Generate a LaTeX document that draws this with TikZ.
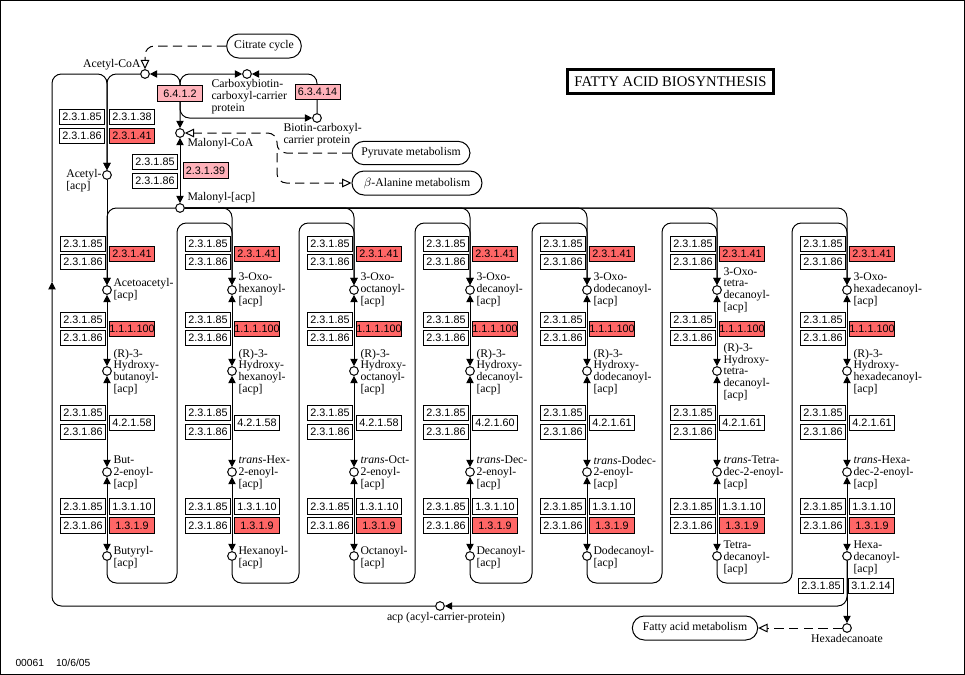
\documentclass[tikz,border=0pt]{standalone}
\usepackage{fontspec}
\setmainfont{Liberation Serif}
\setsansfont{Liberation Sans}
\usetikzlibrary{arrows.meta}
\definecolor{hitred}{RGB}{255,102,102}
\definecolor{hitpink}{RGB}{255,178,186}
\newcommand\acptag{[acp]}

\begin{document}
\begin{tikzpicture}[x=0.75pt, y=-0.75pt, line width=0.75pt,
    >={Triangle[length=5.5pt,width=5.5pt]},
    enz/.style={draw, fill=white, font=\sffamily\fontsize{8.1}{8}\selectfont,
      minimum width=33.75pt, minimum height=11.75pt, inner sep=0pt},
    hit/.style={enz, fill=hitred},
    part/.style={enz, fill=hitpink},
    cpd/.style={circle, draw, fill=white, minimum size=6.5pt, inner sep=0pt},
    lbl/.style={font=\fontsize{8.8}{8.8}\selectfont, align=left, inner sep=0pt},
    map/.style={draw, rounded corners=9pt, font=\fontsize{8.8}{9}\selectfont,
      inner sep=0pt, minimum height=18pt},
    link/.style={dash pattern=on 7pt off 4pt, -{Triangle[open,length=7pt,width=6.5pt]}},
    rc/.style={rounded corners=7pt}]

  \useasboundingbox (0,0) rectangle (965,675);
  \draw (0.5,0.5) rectangle (964.5,674.5);

  % Title
  \node[draw, line width=2.25pt, minimum width=154.5pt, minimum height=18pt,
    font=\fontsize{11}{11}\selectfont] (title) at (670.5,81.5) {FATTY ACID BIOSYNTHESIS};
  \node[anchor=west, inner sep=0pt, font=\sffamily\fontsize{7.7}{8}\selectfont]
    (mapid) at (15,663) {00061\hspace{9pt}10/6/05};

  % Compounds at the top
  \node[cpd] (acoa) at (145,74) {};
  \node[lbl, anchor=east] (acoal) at (141,65) {Acetyl-CoA};
  \node[cpd] (cbc) at (247,74) {};
  \node[lbl, anchor=north west] (cbcl) at (211,79) {Carboxybiotin-\\carboxyl-carrier\\protein};
  \node[cpd] (bcc) at (317,118) {};
  \node[lbl, anchor=north west] (bccl) at (283,123) {Biotin-carboxyl-\\carrier protein};
  \node[cpd] (mcoa) at (180,133) {};
  \node[lbl, anchor=west] (mcoal) at (187,144) {Malonyl-CoA};
  \node[cpd] (macp) at (180,208) {};
  \node[lbl, anchor=west] (macpl) at (187,198) {Malonyl-\acptag};
  \node[cpd] (aacp) at (107,175) {};
  \node[lbl, anchor=east] (aacpl) at (102,181) {Acetyl-\\\acptag};
  \node[cpd] (acp) at (440,606) {};
  \node[lbl] (acpl) at (446,618) {acp (acyl-carrier-protein)};
  \node[cpd] (hexa) at (847,628) {};
  \node[lbl] (hexal) at (847,638) {Hexadecanoate};

  % Pathway maps
  \node[map, minimum width=56pt] (cit) at (264,46) {Citrate cycle};
  \node[map, minimum width=88.5pt, minimum height=17.5pt] (pyr) at (411,153) {Pyruvate metabolism};
  \node[map, minimum width=97.5pt] (ala) at (417,183) {$\beta$-Alanine metabolism};
  \node[map, minimum width=94pt] (fam) at (695,628) {Fatty acid metabolism};

  % Top enzymes
  \node[enz] (t85) at (82,117) {2.3.1.85};
  \node[enz] (t38) at (132,117) {2.3.1.38};
  \node[enz] (t86) at (82,136) {2.3.1.86};
  \node[hit] (t41) at (132,136) {2.3.1.41};
  \node[enz] (m85) at (155,162) {2.3.1.85};
  \node[enz] (m86) at (155,181) {2.3.1.86};
  \node[part] (m39) at (205.5,170.5) {2.3.1.39};

  % Carboxylation
  \coordinate (j1) at (180,95);
  \coordinate (d1) at (277,133);
  \coordinate (d2) at (277,153);
  \draw[<->, rc] (acoa) -- (180,74) -- (mcoa);
  \draw[->, rc] (j1) -- (180,74) -- (cbc);
  \draw[->, rc] (j1) -- (180,118) -- (bcc);
  \draw[->, rc] (bcc) -- (317,74) -- (cbc);
  \draw[<->] (mcoa) -- (macp);
  \draw[->, rc] (acoa) -| (aacp);
  \node[part] (c1) at (180,93.5) {6.4.1.2};
  \node[part] (c2) at (317.5,92) {6.3.4.14};

  % Links to other maps
  \draw[link, rc] (cit) -| (acoa);
  \draw[link, rc] (pyr) -| (d1) -- (mcoa);
  \draw[link, rc] (d2) |- (ala);
  \draw[link] (hexa) -- (fam);

  % Elongation cycles
  \foreach \cx/\i/\dh/\ka/\hy/\en/\ac in {
    107/1/4.2.1.58/{Acetoacetyl-\\\acptag}/{(R)-3-\\Hydroxy-\\butanoyl-\\\acptag}/{But-\\2-enoyl-\\\acptag}/{Butyryl-\\\acptag},
    232/2/4.2.1.58/{3-Oxo-\\hexanoyl-\\\acptag}/{(R)-3-\\Hydroxy-\\hexanoyl-\\\acptag}/{\textit{trans}-Hex-\\2-enoyl-\\\acptag}/{Hexanoyl-\\\acptag},
    354/3/4.2.1.58/{3-Oxo-\\octanoyl-\\\acptag}/{(R)-3-\\Hydroxy-\\octanoyl-\\\acptag}/{\textit{trans}-Oct-\\2-enoyl-\\\acptag}/{Octanoyl-\\\acptag},
    470/4/4.2.1.60/{3-Oxo-\\decanoyl-\\\acptag}/{(R)-3-\\Hydroxy-\\decanoyl-\\\acptag}/{\textit{trans}-Dec-\\2-enoyl-\\\acptag}/{Decanoyl-\\\acptag},
    587/5/4.2.1.61/{3-Oxo-\\dodecanoyl-\\\acptag}/{(R)-3-\\Hydroxy-\\dodecanoyl-\\\acptag}/{\textit{trans}-Dodec-\\2-enoyl-\\\acptag}/{Dodecanoyl-\\\acptag},
    717/6/4.2.1.61/{3-Oxo-\\tetra-\\decanoyl-\\\acptag}/{(R)-3-\\Hydroxy-\\tetra-\\decanoyl-\\\acptag}/{\textit{trans}-Tetra-\\dec-2-enoyl-\\\acptag}/{Tetra-\\decanoyl-\\\acptag},
    847/7/4.2.1.61/{3-Oxo-\\hexadecanoyl-\\\acptag}/{(R)-3-\\Hydroxy-\\hexadecanoyl-\\\acptag}/{\textit{trans}-Hexa-\\dec-2-enoyl-\\\acptag}/{Hexa-\\decanoyl-\\\acptag}} {
    \node[cpd] (k\i) at (\cx,290) {};
    \node[cpd] (h\i) at (\cx,371) {};
    \node[cpd] (e\i) at (\cx,472) {};
    \node[cpd] (a\i) at (\cx,556) {};
    \node[lbl, anchor=west] (kl\i) at (\cx+6,290) {\ka};
    \node[lbl, anchor=west] (hl\i) at (\cx+6,372) {\hy};
    \node[lbl, anchor=west] (el\i) at (\cx+6,473) {\en};
    \node[lbl, anchor=west] (al\i) at (\cx+6,558) {\ac};
    \draw[<->] (k\i) -- (h\i);
    \draw[<->] (h\i) -- (e\i);
    \draw[<->] (e\i) -- (a\i);
    \draw[->, rc] (macp) -| (k\i);
    % enzymes
    \node[enz] (k85-\i) at (\cx-24,244) {2.3.1.85};
    \node[enz] (k86-\i) at (\cx-24,262) {2.3.1.86};
    \node[hit] (k41-\i) at (\cx+25,254) {2.3.1.41};
    \node[enz] (h85-\i) at (\cx-24,320) {2.3.1.85};
    \node[enz] (h86-\i) at (\cx-24,338) {2.3.1.86};
    \node[hit] (h100-\i) at (\cx+25,329) {1.1.1.100};
    \node[enz] (e85-\i) at (\cx-24,413) {2.3.1.85};
    \node[enz] (e86-\i) at (\cx-24,432) {2.3.1.86};
    \node[enz] (edh-\i) at (\cx+25,423) {\dh};
    \node[enz] (a85-\i) at (\cx-24,506.5) {2.3.1.85};
    \node[enz] (a86-\i) at (\cx-24,525.5) {2.3.1.86};
    \node[enz] (a10-\i) at (\cx+25,506.5) {1.3.1.10};
    \node[hit] (a9-\i) at (\cx+25,525.5) {1.3.1.9};
  }
  \draw[->] (aacp) -- (k1);

  % Acyl-[acp] into the next cycle
  \foreach \i/\j/\nx in {1/2/232, 2/3/354, 3/4/470, 4/5/587, 5/6/717, 6/7/847}
    \draw[->, rc] (a\i) |- (\nx-55,583) -- (\nx-55,223) -| (k\j);

  % Release and acp recycling
  \coordinate (up) at (52,282);
  \node[enz] (r85) at (821,586) {2.3.1.85};
  \node[enz] (r14) at (871,586) {3.1.2.14};
  \draw[->] (a7) -- (hexa);
  \draw[->, rc] (a7) |- (acp);
  \draw[->, rc] (acp) -| (up);
  \draw[->, rc] (up) |- (107,74) -- (aacp);
\end{tikzpicture}
\end{document}
